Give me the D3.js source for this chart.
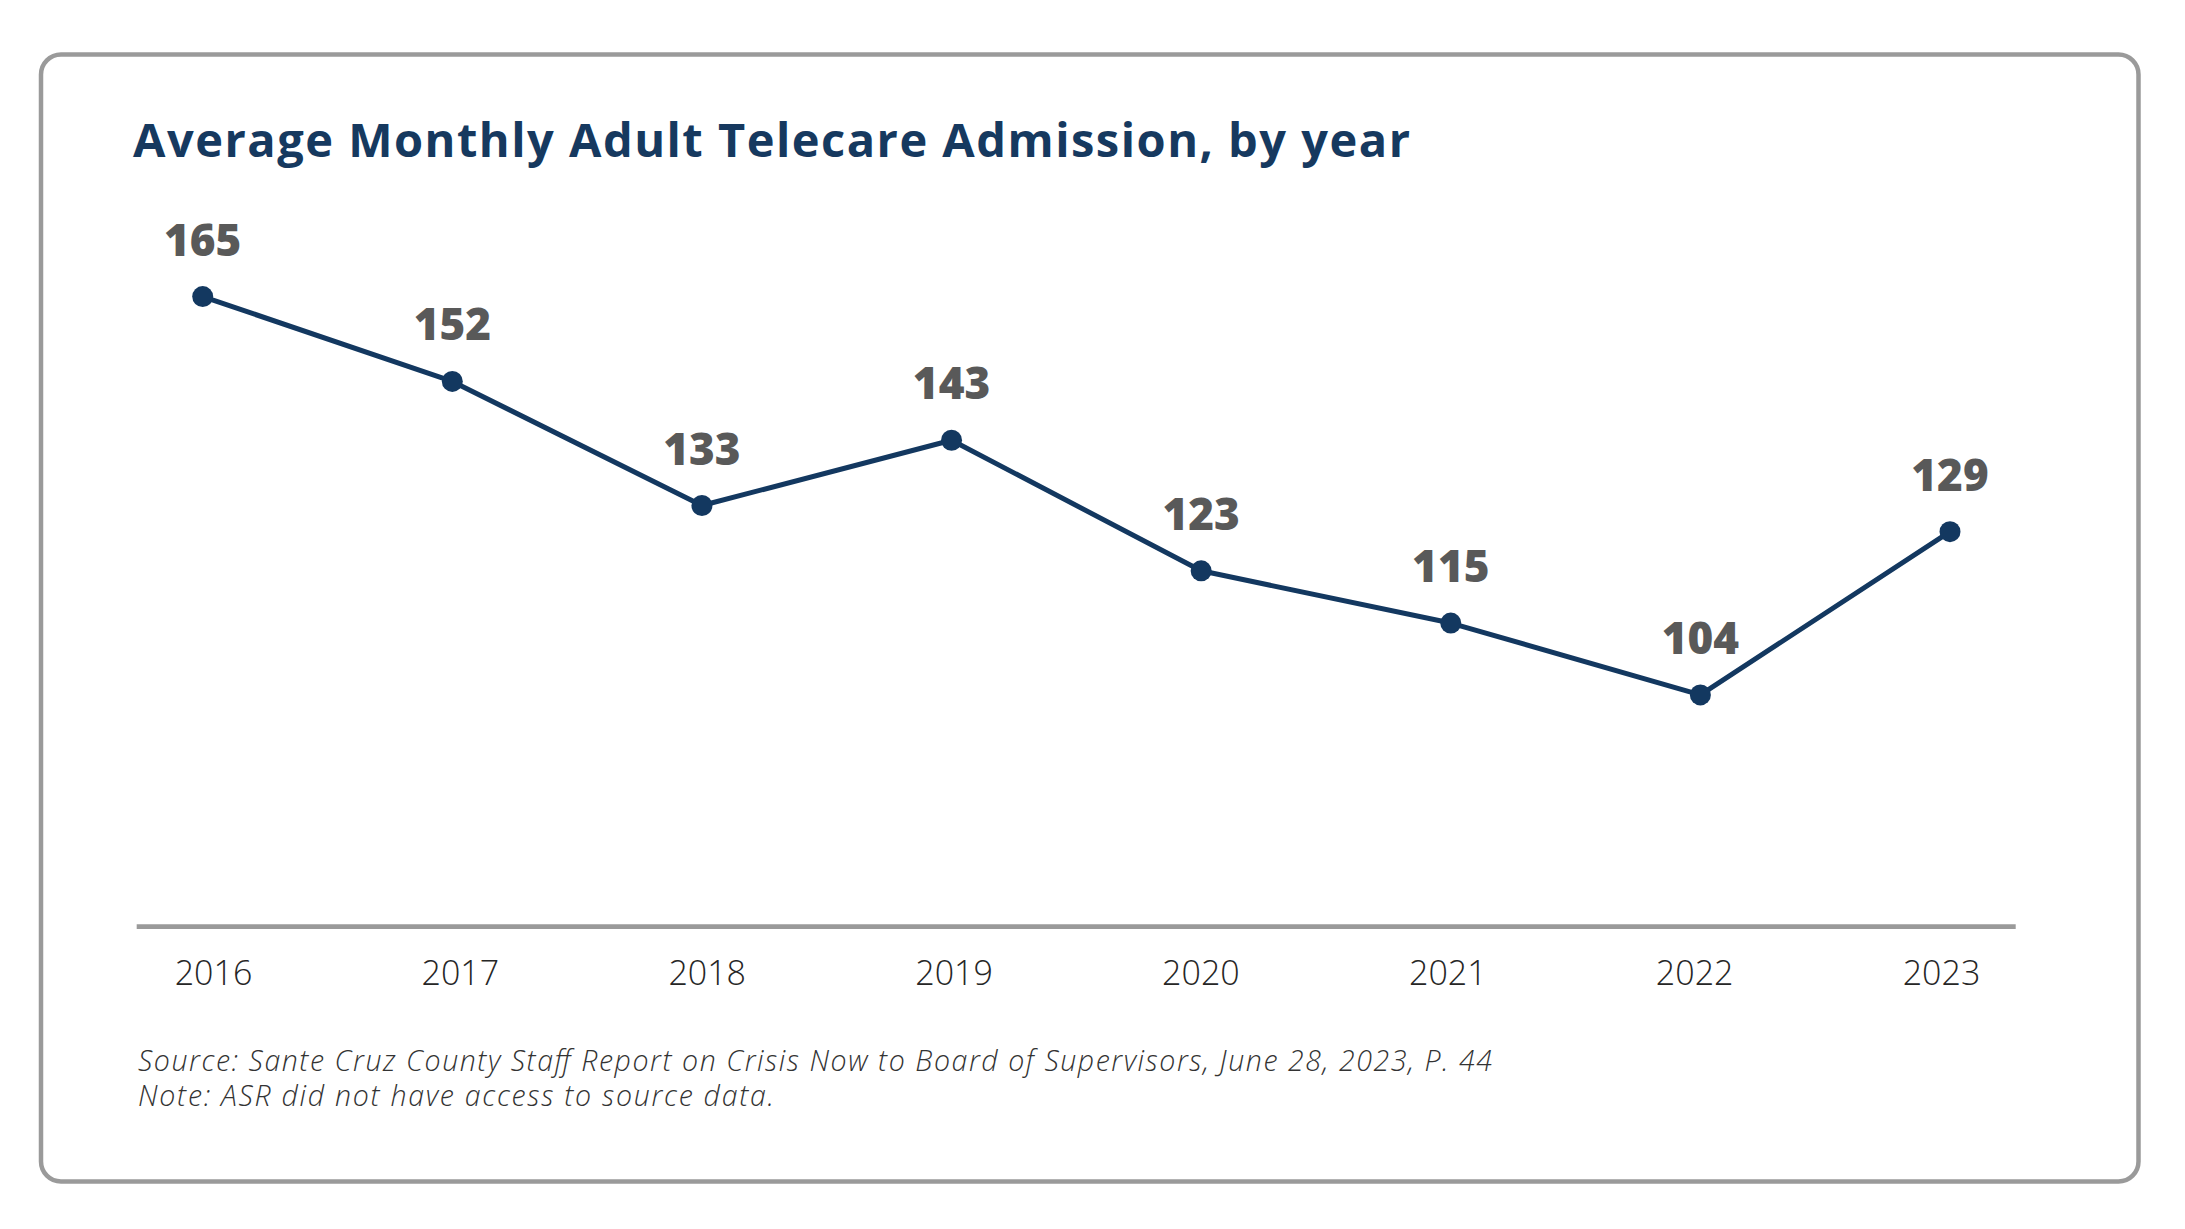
<!DOCTYPE html>
<html>
<head>
<meta charset="utf-8">
<script src="https://cdn.jsdelivr.net/npm/d3@7"></script>
<style>
  html, body { margin: 0; padding: 0; background: #fff; }
  svg { display: block; }
  .tick text { font-family: "Open Sans", sans-serif; font-weight: 300; fill: #262626; }
</style>
</head>
<body>
<svg id="chart"></svg>
<script>
// Chart data
const years = ['2016', '2017', '2018', '2019', '2020', '2021', '2022', '2023'];
const admissions = [165, 152, 133, 143, 123, 115, 104, 129];
const titleText = 'Average Monthly Adult Telecare Admission, by year';
const notes = [
  'Source: Sante Cruz County Staff Report on Crisis Now to Board of Supervisors, June 28, 2023, P. 44',
  'Note: ASR did not have access to source data.'
];

const data = years.map((y, i) => ({year: y, value: admissions[i]}));

const width = 2185, height = 1229;
const navy = '#133860';

const svg = d3.select('#chart')
    .attr('width', width)
    .attr('height', height);

// Rounded frame
svg.append('rect')
    .attr('x', 41)
    .attr('y', 54.5)
    .attr('width', 2097.5)
    .attr('height', 1127)
    .attr('rx', 20)
    .attr('fill', '#fff')
    .attr('stroke', '#9a9a9a')
    .attr('stroke-width', 4.5);

// Title
svg.append('text')
    .attr('x', 133)
    .attr('y', 157)
    .attr('textLength', 1277)
    .attr('lengthAdjust', 'spacing')
    .style('font-family', '"Open Sans", sans-serif')
    .style('font-weight', 700)
    .style('font-size', '47px')
    .style('fill', '#16395f')
    .text(titleText);

// Scales
const axisY = 926.7;
const xScale = d3.scalePoint()
    .domain(years)
    .range([202.7, 1950]);

// labels under the axis sit on a slightly tighter spacing than the points
const xLabelScale = d3.scalePoint()
    .domain(years)
    .range([213, 1941]);

const yScale = d3.scaleLinear()
    .domain([68.5, 170])
    .range([axisY, axisY - 101.5 * 6.53]);

// Baseline
svg.append('line')
    .attr('x1', 136.7)
    .attr('x2', 2015.7)
    .attr('y1', axisY)
    .attr('y2', axisY)
    .attr('stroke', '#9a9a9a')
    .attr('stroke-width', 4.7);

// X axis labels
const xAxis = d3.axisBottom(xLabelScale)
    .tickSize(0)
    .tickPadding(34);

svg.append('g')
    .attr('class', 'axis x-axis')
    .attr('transform', `translate(0,${axisY})`)
    .call(xAxis)
    .call(g => g.select('.domain').remove())
    .call(g => g.selectAll('text').style('font-size', '34px'));

// Line
const line = d3.line()
    .x(d => xScale(d.year))
    .y(d => yScale(d.value));

svg.append('path')
    .datum(data)
    .attr('fill', 'none')
    .attr('stroke', navy)
    .attr('stroke-width', 5)
    .attr('stroke-linejoin', 'round')
    .attr('d', line);

// Points
svg.selectAll('.point')
    .data(data)
  .join('circle')
    .attr('class', 'point')
    .attr('cx', d => xScale(d.year))
    .attr('cy', d => yScale(d.value))
    .attr('r', 10.5)
    .attr('fill', navy);

// Value labels
svg.selectAll('.value-label')
    .data(data)
  .join('text')
    .attr('class', 'value-label')
    .attr('x', d => xScale(d.year))
    .attr('y', d => yScale(d.value) - 41)
    .attr('text-anchor', 'middle')
    .style('font-family', '"Open Sans", sans-serif')
    .style('font-weight', 800)
    .style('font-size', '44px')
    .style('fill', '#595959')
    .text(d => d.value);

// Footnotes
const noteWidths = [1354, 636];
svg.selectAll('.note')
    .data(notes)
  .join('text')
    .attr('class', 'note')
    .attr('x', 138)
    .attr('y', (d, i) => 1071 + i * 34.5)
    .attr('textLength', (d, i) => noteWidths[i])
    .attr('lengthAdjust', 'spacing')
    .style('font-family', '"Open Sans", sans-serif')
    .style('font-style', 'italic')
    .style('font-weight', 300)
    .style('font-size', '28.5px')
    .style('fill', '#333')
    .text(d => d);
</script>
</body>
</html>
